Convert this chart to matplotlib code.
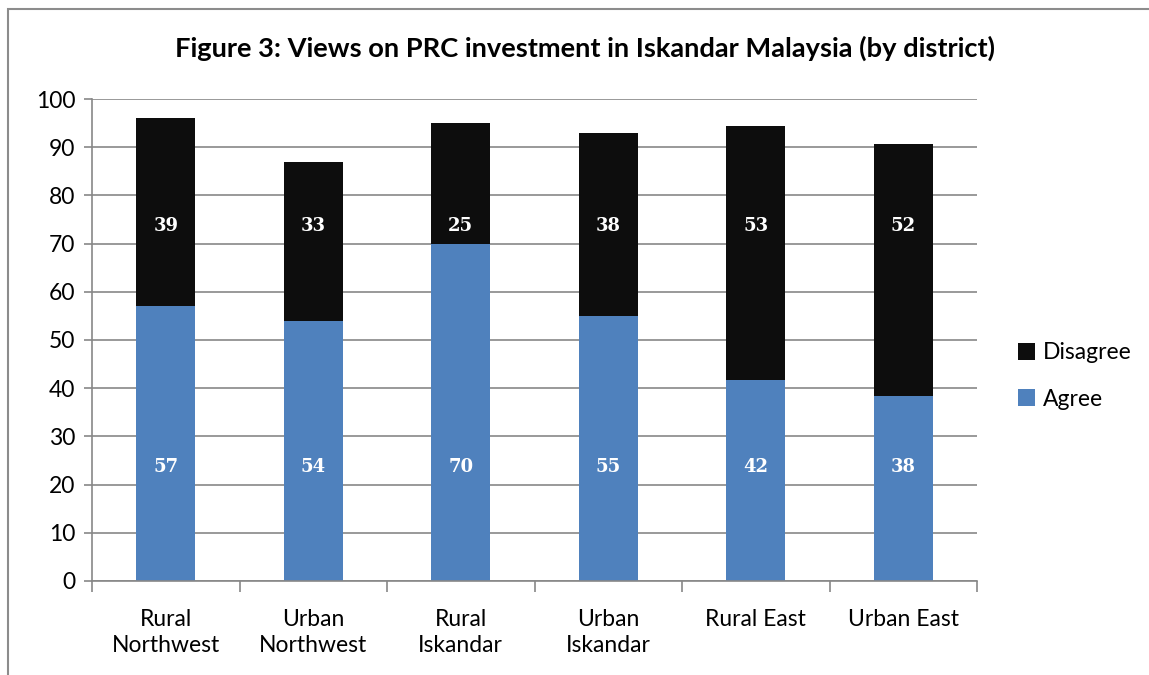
import numpy as np
import matplotlib
matplotlib.use("Agg")
import matplotlib.pyplot as plt
from matplotlib.patches import Rectangle

districts = ["Rural\nNorthwest", "Urban\nNorthwest", "Rural\nIskandar",
             "Urban\nIskandar", "Rural East", "Urban East"]
# valores con decimales: las etiquetas redondeadas no siempre suman al total
agree = [57, 54, 70, 55, 41.7, 38.3]
disagree = [39, 33, 25, 38, 52.6, 52.4]

C_AGREE = "#4F81BD"
C_DIS = "#0D0D0D"
C_GRID = "#878787"
SANS = ["Lato", "DejaVu Sans"]

plt.rcParams["font.family"] = SANS

fig = plt.figure(figsize=(11.49, 6.75), dpi=100)
ax = fig.add_axes([0.0801, 0.1393, 0.7702, 0.7140])

x = np.arange(len(districts))
ax.bar(x, agree, width=0.4, color=C_AGREE, zorder=2, label="Agree")
ax.bar(x, disagree, width=0.4, bottom=agree, color=C_DIS, zorder=2, label="Disagree")

# etiquetas de datos (a altura fija, como en el original)
for xi, a, d in zip(x, agree, disagree):
    ax.text(xi, 23.6, f"{a:.0f}", ha="center", va="center", color="white",
            fontsize=13, fontweight="bold", family="DejaVu Serif", zorder=3)
    ax.text(xi, 73.6, f"{d:.0f}", ha="center", va="center", color="white",
            fontsize=13, fontweight="bold", family="DejaVu Serif", zorder=3)

ax.set_xlim(-0.5, len(districts) - 0.5)
ax.set_ylim(0, 100)
ax.set_yticks(range(0, 101, 10))
ax.yaxis.grid(True, color=C_GRID, lw=1.2, zorder=0)
ax.set_axisbelow(True)

ax.set_xticks(x)
ax.set_xticklabels(districts, fontsize=16.5, linespacing=1.3)
ax.set_xticks(np.arange(-0.5, len(districts)), minor=True)
ax.tick_params(axis="x", which="major", length=0, pad=20)
ax.tick_params(axis="x", which="minor", length=8, width=1.2, color=C_GRID)
ax.tick_params(axis="y", length=6, width=1.2, color=C_GRID, labelsize=16.5, pad=6)

for s in ("top", "right"):
    ax.spines[s].set_visible(False)
for s in ("left", "bottom"):
    ax.spines[s].set_color(C_GRID)
    ax.spines[s].set_linewidth(1.2)

h, l = ax.get_legend_handles_labels()
fig.legend(h[::-1], l[::-1], loc="center left", bbox_to_anchor=(0.868, 0.443),
           frameon=False, fontsize=16.5, handlelength=0.75, handleheight=0.75,
           handletextpad=0.35, labelspacing=1.12)

fig.text(0.509, 0.929, "Figure 3: Views on PRC investment in Iskandar Malaysia (by district)",
         ha="center", va="center", fontsize=19.6, fontweight="bold")

# marco del gráfico (recortado a derecha y abajo)
fig.patches.append(Rectangle((8 / 1149, -0.1), 1.2, 1.1 - 9 / 675,
                             transform=fig.transFigure, fill=False,
                             edgecolor="#8C8C8C", lw=1.5))

fig.savefig("out.png", dpi=100)
